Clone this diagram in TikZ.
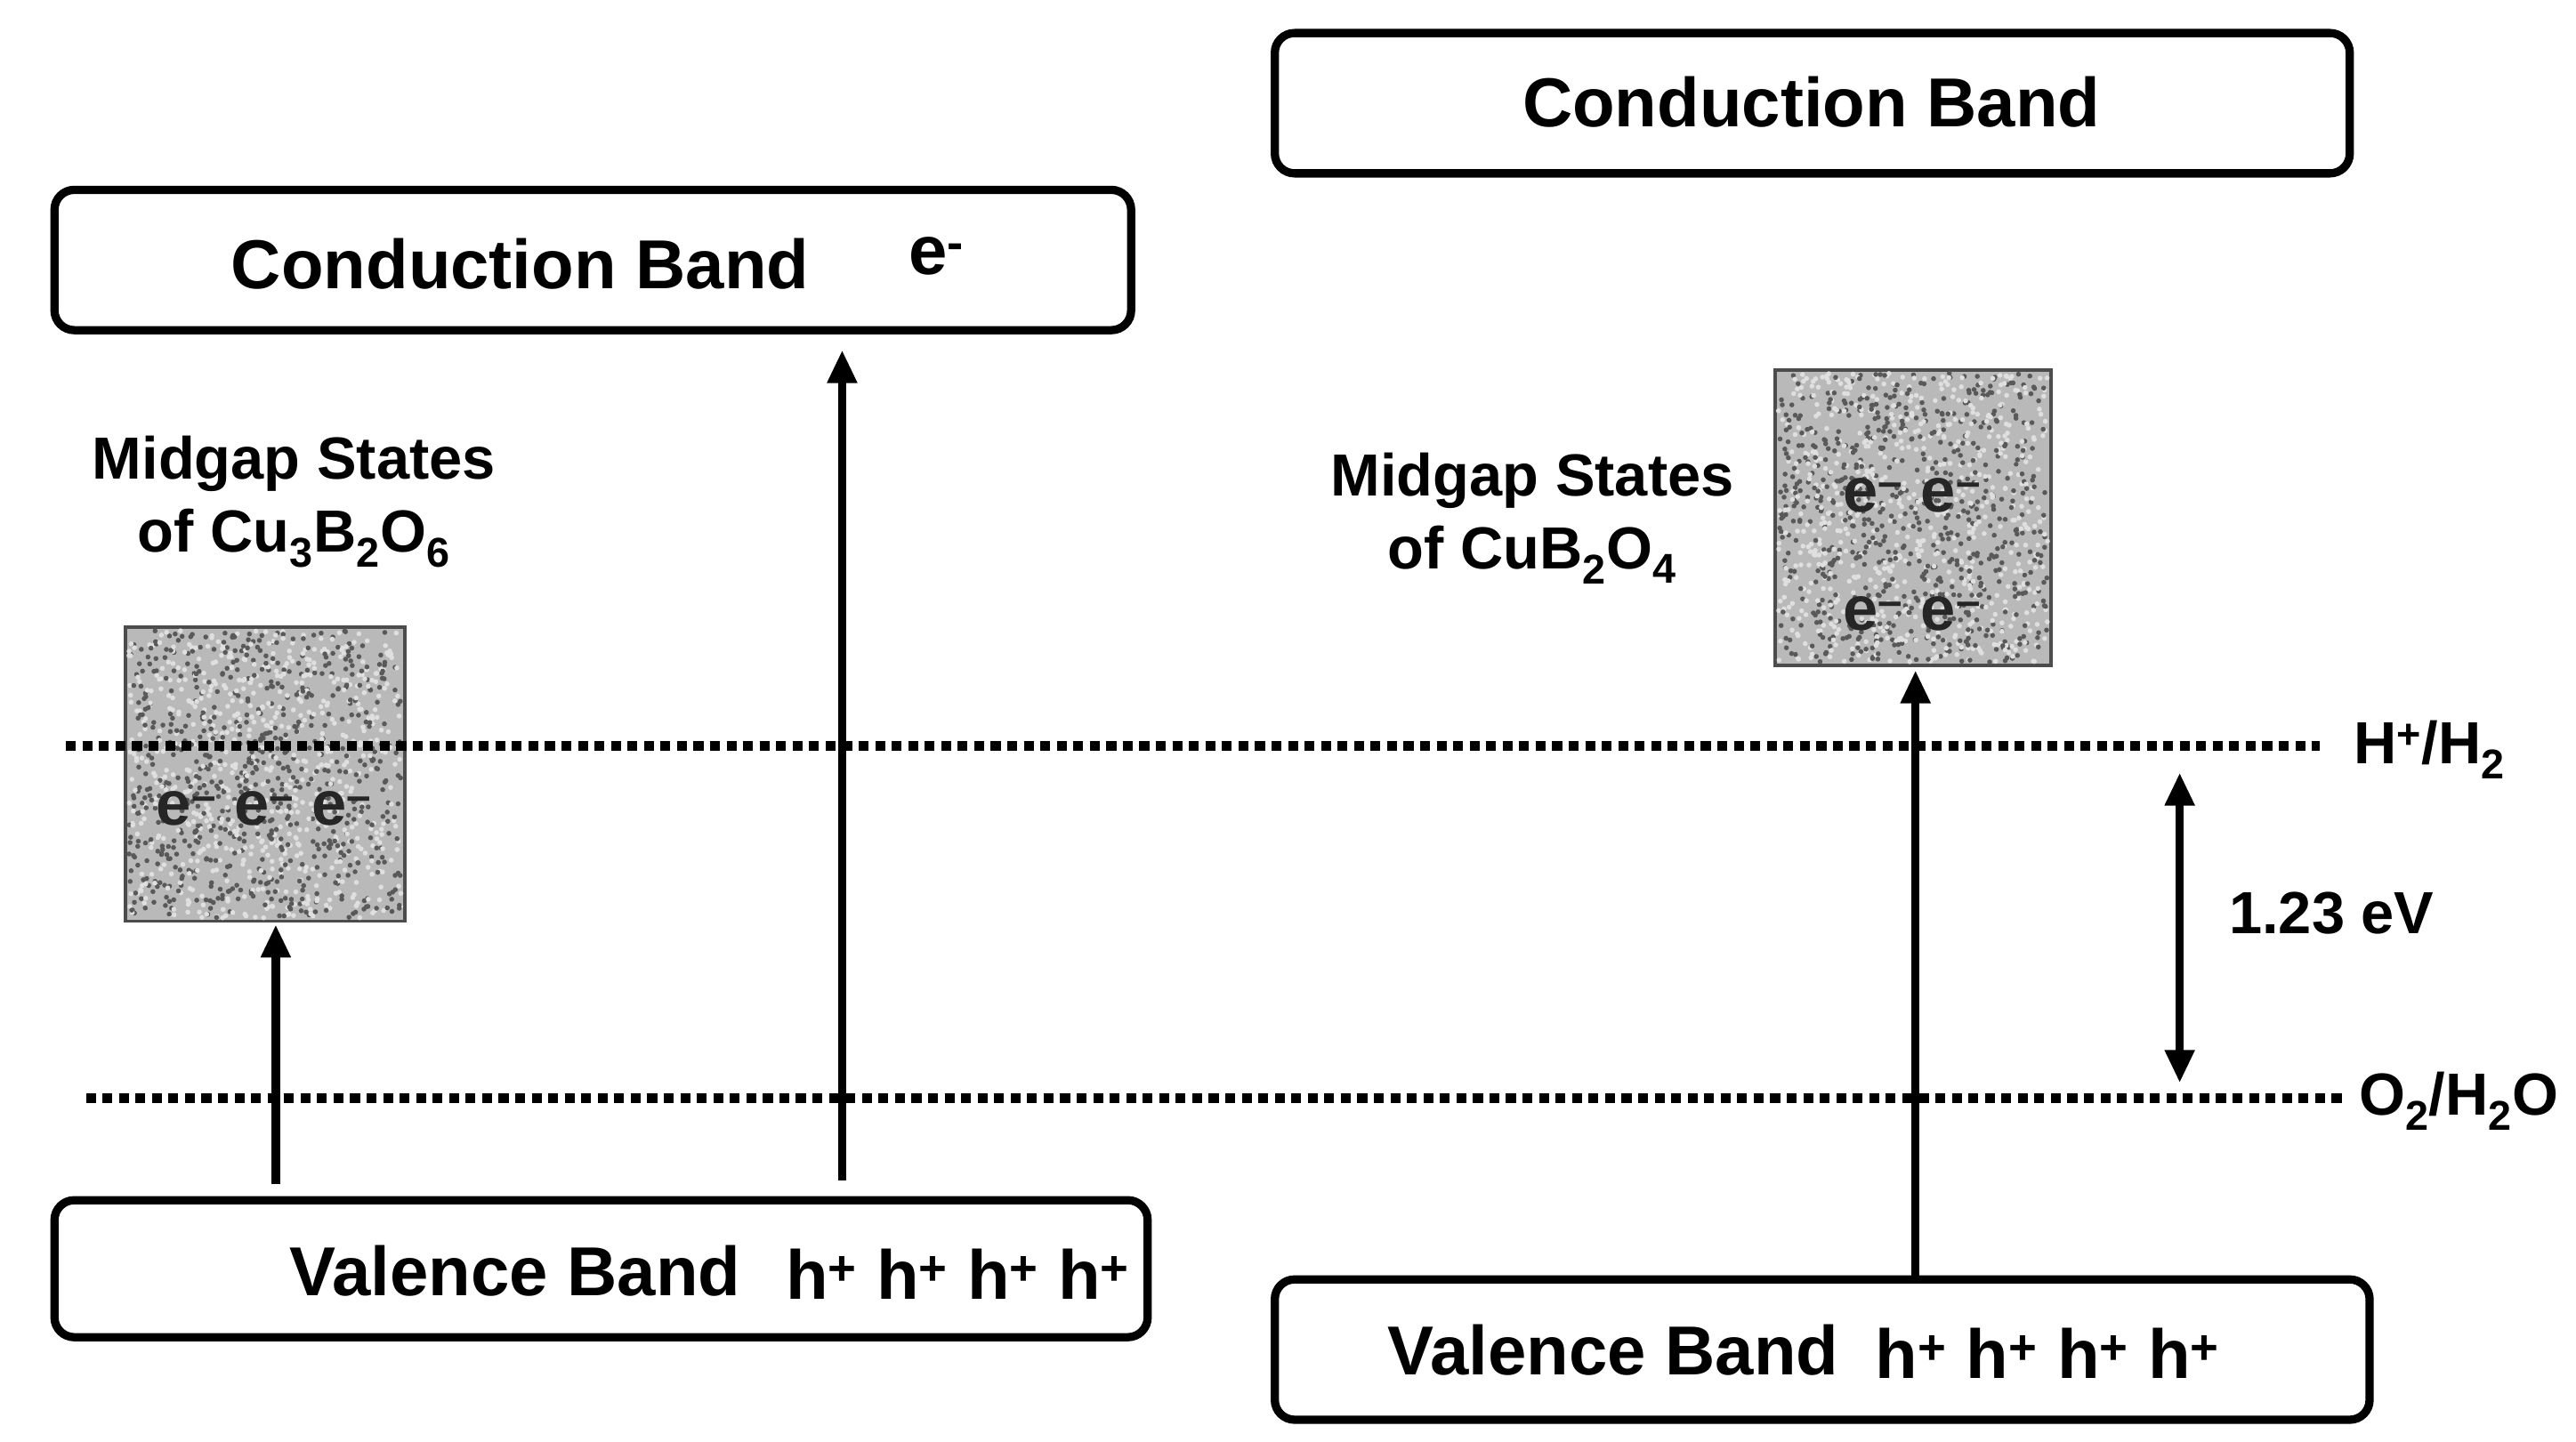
\documentclass[tikz,border=0pt]{standalone}
\usepackage{fontspec}
\setmainfont{Liberation Sans}
\usetikzlibrary{arrows.meta}
\begin{document}
\begin{tikzpicture}[x=1pt,y=-1pt,
  band/.style={draw,line width=5pt,rounded corners=12pt},
  txt/.style={font=\fontsize{42}{48}\selectfont\bfseries},
  lbl/.style={font=\fontsize{36}{44}\selectfont\bfseries,align=center},
  em/.style={font=\fontsize{38}{44}\selectfont\bfseries,text=black!85},
  dots/.style={line width=6pt,dash pattern=on 6pt off 4pt},
  arr/.style={line width=5pt,-{Triangle[length=20pt,width=17pt]}},
  gap/.style={draw=black!70,line width=2pt,fill=gray!55}]
\useasboundingbox (0,0) rectangle (1560,873);
% bands
\draw[band] (33,115) rectangle (685,200);
\draw[band] (772,20) rectangle (1423,105);
\draw[band] (33,727) rectangle (695,810);
\draw[band] (772,775) rectangle (1435,860);
\node[txt] (cbl) at (315,160) {Conduction Band};
\node[txt] (el) at (567,155) {e\textsuperscript{-}};
\node[txt] (cbr) at (1097,62) {Conduction Band};
\node[txt] (vbl) at (312,770) {Valence Band};
\node[txt] (hl) at (580,772) {h\textsuperscript{+} h\textsuperscript{+} h\textsuperscript{+} h\textsuperscript{+}};
\node[txt] (vbr) at (977,818) {Valence Band};
\node[txt] (hr) at (1240,820) {h\textsuperscript{+} h\textsuperscript{+} h\textsuperscript{+} h\textsuperscript{+}};
% midgap boxes
\draw[gap] (76,380) rectangle (245,558);
\draw[gap] (1075,224) rectangle (1242,403);
\pgfmathsetseed{7}
\foreach \i in {1,...,700}{
  \pgfmathsetmacro\xa{78+165*rnd}\pgfmathsetmacro\ya{382+174*rnd}
  \pgfmathsetmacro\xb{1077+163*rnd}\pgfmathsetmacro\yb{226+175*rnd}
  \fill[gray!25] (\xa,\ya) circle (1.5);
  \fill[gray!25] (\xb,\yb) circle (1.5);
  \pgfmathsetmacro\xc{78+165*rnd}\pgfmathsetmacro\yc{382+174*rnd}
  \pgfmathsetmacro\xd{1077+163*rnd}\pgfmathsetmacro\yd{226+175*rnd}
  \fill[gray!70!black] (\xc,\yc) circle (1.5);
  \fill[gray!70!black] (\xd,\yd) circle (1.5);
}
\node[em] (eml) at (160,490) {e\textsuperscript{\textbf{--}} e\textsuperscript{\textbf{--}} e\textsuperscript{\textbf{--}}};
\node[em] (emr1) at (1158,300) {e\textsuperscript{\textbf{--}} e\textsuperscript{\textbf{--}}};
\node[em] (emr2) at (1158,372) {e\textsuperscript{\textbf{--}} e\textsuperscript{\textbf{--}}};
\node[lbl] (ml) at (178,304) {Midgap States\\of Cu\textsubscript{3}B\textsubscript{2}O\textsubscript{6}};
\node[lbl] (mr) at (928,314) {Midgap States\\of CuB\textsubscript{2}O\textsubscript{4}};
% potential lines
\coordinate (h1) at (40,452); \coordinate (h2) at (1405,452);
\coordinate (o1) at (52,665); \coordinate (o2) at (1420,665);
\draw[dots] (h1) -- (h2);
\draw[dots] (o1) -- (o2);
\node[lbl,anchor=west] (hh) at (1422,454) {H\textsuperscript{+}/H\textsubscript{2}};
\node[lbl,anchor=west] (oo) at (1425,667) {O\textsubscript{2}/H\textsubscript{2}O};
% arrows
\coordinate (a1) at (167,717); \coordinate (a1e) at (167,560);
\coordinate (a2) at (510,715); \coordinate (a2e) at (510,212);
\coordinate (a3) at (1160,773); \coordinate (a3e) at (1160,406);
\coordinate (d1) at (1320,468); \coordinate (d2) at (1320,656);
\draw[arr] (a1) -- (a1e);
\draw[arr] (a2) -- (a2e);
\draw[arr] (a3) -- (a3e);
\draw[arr,{Triangle[length=20pt,width=17pt]}-{Triangle[length=20pt,width=17pt]}] (d1) -- (d2);
\node[lbl] (ev) at (1412,553) {1.23 eV};
\end{tikzpicture}
\end{document}
